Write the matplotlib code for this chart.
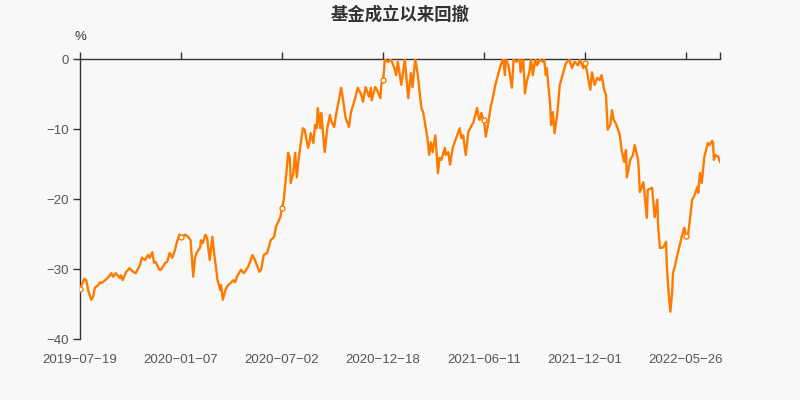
import matplotlib
matplotlib.use("Agg")
import matplotlib.pyplot as plt
import numpy as np

plt.rcParams['font.family'] = ['Noto Sans CJK SC', 'DejaVu Sans']
plt.rcParams['axes.unicode_minus'] = True

title = "基金成立以来回撤"
tick_labels = ["2019-07-19", "2020-01-07", "2020-07-02", "2020-12-18",
               "2021-06-11", "2021-12-01", "2022-05-26"]
tick_days = [0, 116, 232, 348, 464, 580, 696]
n_days = 735

# trading-day index since inception, drawdown in %
day = [0, 5, 7, 10, 13, 15, 17, 21, 23, 25, 29, 33, 36, 38, 41, 46, 47, 49, 53, 57,
       61, 64, 69, 71, 75, 78, 80, 83, 85, 87, 91, 93, 95, 98, 100, 103, 106, 109, 111, 114,
       116, 121, 124, 127, 130, 132, 134, 138, 139, 141, 144, 146, 149, 152, 154, 156, 158, 161, 162, 164,
       167, 170, 173, 176, 178, 181, 185, 188, 193, 195, 198, 201, 202, 206, 208, 211, 215, 219, 223, 225,
       230, 232, 234, 237, 239, 241, 242, 245, 247, 249, 251, 254, 256, 258, 262, 264, 265, 268, 270, 272,
       273, 276, 277, 279, 281, 284, 287, 289, 292, 294, 299, 300, 303, 305, 309, 311, 316, 319, 323, 325,
       328, 332, 334, 335, 339, 341, 342, 345, 346, 348, 349, 350, 354, 357, 361, 363, 365, 369, 373, 377,
       380, 382, 385, 388, 390, 392, 394, 396, 399, 401, 403, 405, 408, 409, 411, 413, 415, 419, 420, 423,
       425, 428, 432, 436, 438, 440, 442, 443, 446, 449, 452, 456, 458, 459, 461, 463, 464, 466, 469, 472,
       474, 477, 480, 483, 486, 488, 489, 492, 496, 498, 501, 505, 506, 509, 511, 513, 516, 518, 520, 523,
       525, 528, 532, 533, 535, 536, 540, 541, 543, 545, 548, 551, 555, 558, 562, 565, 568, 572, 574, 578,
       580, 583, 586, 588, 591, 594, 597, 599, 602, 604, 606, 609, 611, 613, 616, 618, 620, 622, 625, 627,
       628, 632, 635, 637, 641, 643, 647, 651, 652, 657, 660, 663, 664, 666, 670, 673, 674, 676, 678, 680,
       681, 683, 686, 688, 691, 694, 696, 698, 700, 703, 705, 709, 710, 712, 714, 717, 719, 721, 723, 726,
       727, 728, 730, 733, 735]
drawdown = [-32.9, -31.4, -31.6, -33.3, -34.4, -34.0, -32.7, -32.3, -31.9, -32.0, -31.6, -31.1, -30.6, -31.1, -30.6, -31.3, -30.9, -31.6, -30.4, -29.9,
            -30.4, -30.6, -29.4, -28.4, -28.7, -28.0, -28.4, -27.6, -29.1, -29.0, -30.1, -30.1, -29.7, -29.1, -29.0, -27.7, -28.4, -27.3, -26.3, -25.1,
            -25.4, -25.1, -25.4, -25.9, -31.1, -28.4, -27.7, -26.9, -25.9, -26.3, -25.1, -25.6, -28.7, -25.4, -27.7, -29.7, -31.6, -33.0, -32.3, -34.4,
            -33.0, -32.3, -32.0, -31.6, -31.9, -30.9, -30.1, -30.6, -29.7, -29.1, -28.0, -28.7, -29.1, -30.4, -30.1, -28.0, -27.7, -25.9, -25.4, -24.0,
            -22.6, -21.3, -20.1, -16.3, -13.4, -14.1, -17.7, -16.3, -13.4, -16.9, -14.4, -11.6, -9.9, -10.1, -12.7, -11.6, -10.6, -12.0, -9.4, -9.9,
            -7.0, -9.9, -7.7, -10.4, -13.3, -9.9, -8.0, -9.0, -9.7, -8.0, -4.7, -4.1, -6.6, -8.4, -9.7, -7.7, -5.6, -4.1, -5.1, -6.1,
            -4.0, -5.4, -4.1, -5.9, -4.0, -4.4, -4.7, -5.6, -3.7, -3.0, -1.9, -0.1, -0.4, 0.0, -1.3, -2.3, -0.4, -3.7, -0.1, -5.6,
            -2.0, -4.0, 0.0, -2.3, -4.7, -7.0, -7.6, -9.0, -11.3, -13.7, -11.9, -13.3, -10.9, -12.3, -16.3, -14.1, -14.4, -12.7, -13.7, -13.3,
            -15.1, -12.7, -11.3, -9.9, -11.3, -10.9, -12.7, -13.7, -10.4, -9.7, -9.0, -7.0, -8.4, -8.7, -7.7, -8.7, -8.7, -11.1, -9.0, -6.6,
            -5.6, -3.7, -2.3, -0.9, 0.0, -2.3, 0.0, -0.9, -4.1, 0.0, -0.4, 0.0, -1.9, 0.0, -4.9, -3.3, -1.9, 0.0, -2.3, 0.0,
            -0.9, -0.1, -0.4, 0.0, -2.3, -1.3, -6.6, -9.4, -7.6, -10.6, -8.0, -3.7, -1.9, -0.6, -0.1, -1.3, -0.4, -0.9, -0.1, -1.3,
            -0.6, -2.3, -4.4, -1.9, -3.7, -2.7, -3.0, -2.3, -4.4, -5.1, -10.1, -9.4, -7.3, -8.7, -9.4, -10.1, -10.9, -13.0, -14.7, -13.0,
            -16.9, -14.4, -13.7, -12.3, -14.4, -19.0, -17.6, -22.7, -18.7, -18.4, -22.6, -20.1, -24.0, -27.0, -26.9, -26.1, -29.7, -33.4, -36.1, -33.4,
            -30.6, -29.7, -28.0, -27.0, -25.4, -24.1, -25.3, -25.4, -23.4, -20.1, -19.7, -18.3, -19.1, -16.3, -17.7, -14.0, -13.0, -12.0, -12.3, -11.7,
            -12.0, -14.4, -13.7, -14.0, -14.7]
y_ticks = [0, -10, -20, -30, -40]

bg = '#f8f8f8'
orange = '#ff7b00'
axis_col = '#333333'
label_col = '#555555'
tick_font = ['Liberation Sans', 'DejaVu Sans']

fig = plt.figure(figsize=(8, 4), dpi=100, facecolor=bg)
ax = fig.add_axes([0.1, 0.1525, 0.8, 0.70])
ax.set_facecolor(bg)

marks = [i for i, d in enumerate(day) if d in tick_days]
ax.plot(day, drawdown, color=orange, lw=1.7, solid_joinstyle='round', zorder=3)
ax.plot([day[i] for i in marks], [drawdown[i] for i in marks], linestyle='none',
        marker='o', ms=3.6, mfc='white', mec=orange, mew=1.0, zorder=4)

ax.set_xlim(0, n_days)
ax.set_ylim(-40, 0)

for s in ['bottom', 'right']:
    ax.spines[s].set_visible(False)
for s in ['top', 'left']:
    ax.spines[s].set_color(axis_col)
    ax.spines[s].set_linewidth(1.0)

ax.set_xticks(tick_days + [n_days])
ax.set_xticklabels([t.replace('-', '\u2212') for t in tick_labels] + [''],
                   family=tick_font)
ax.tick_params(axis='x', top=True, bottom=False, labeltop=False, labelbottom=True,
               direction='out', length=5, width=1, color=axis_col,
               labelsize=9.5, labelcolor=label_col, pad=6)
ax.set_yticks(y_ticks)
ax.set_yticklabels(['0' if v == 0 else '\u2212' + str(abs(v)) for v in y_ticks],
                   family=tick_font)
ax.tick_params(axis='y', direction='out', length=5, width=1, color=axis_col,
               labelsize=9.5, labelcolor=label_col, pad=3)

fig.text(0.5, 1 - 15 / 400, title, ha='center', va='center', fontsize=12.5,
         fontweight='bold', color='#333333')
fig.text(80 / 800, 1 - 37 / 400, '%', ha='center', va='center', fontsize=9.5,
         color='#333333', family=tick_font)

fig.savefig('out.png', dpi=100, facecolor=bg)
